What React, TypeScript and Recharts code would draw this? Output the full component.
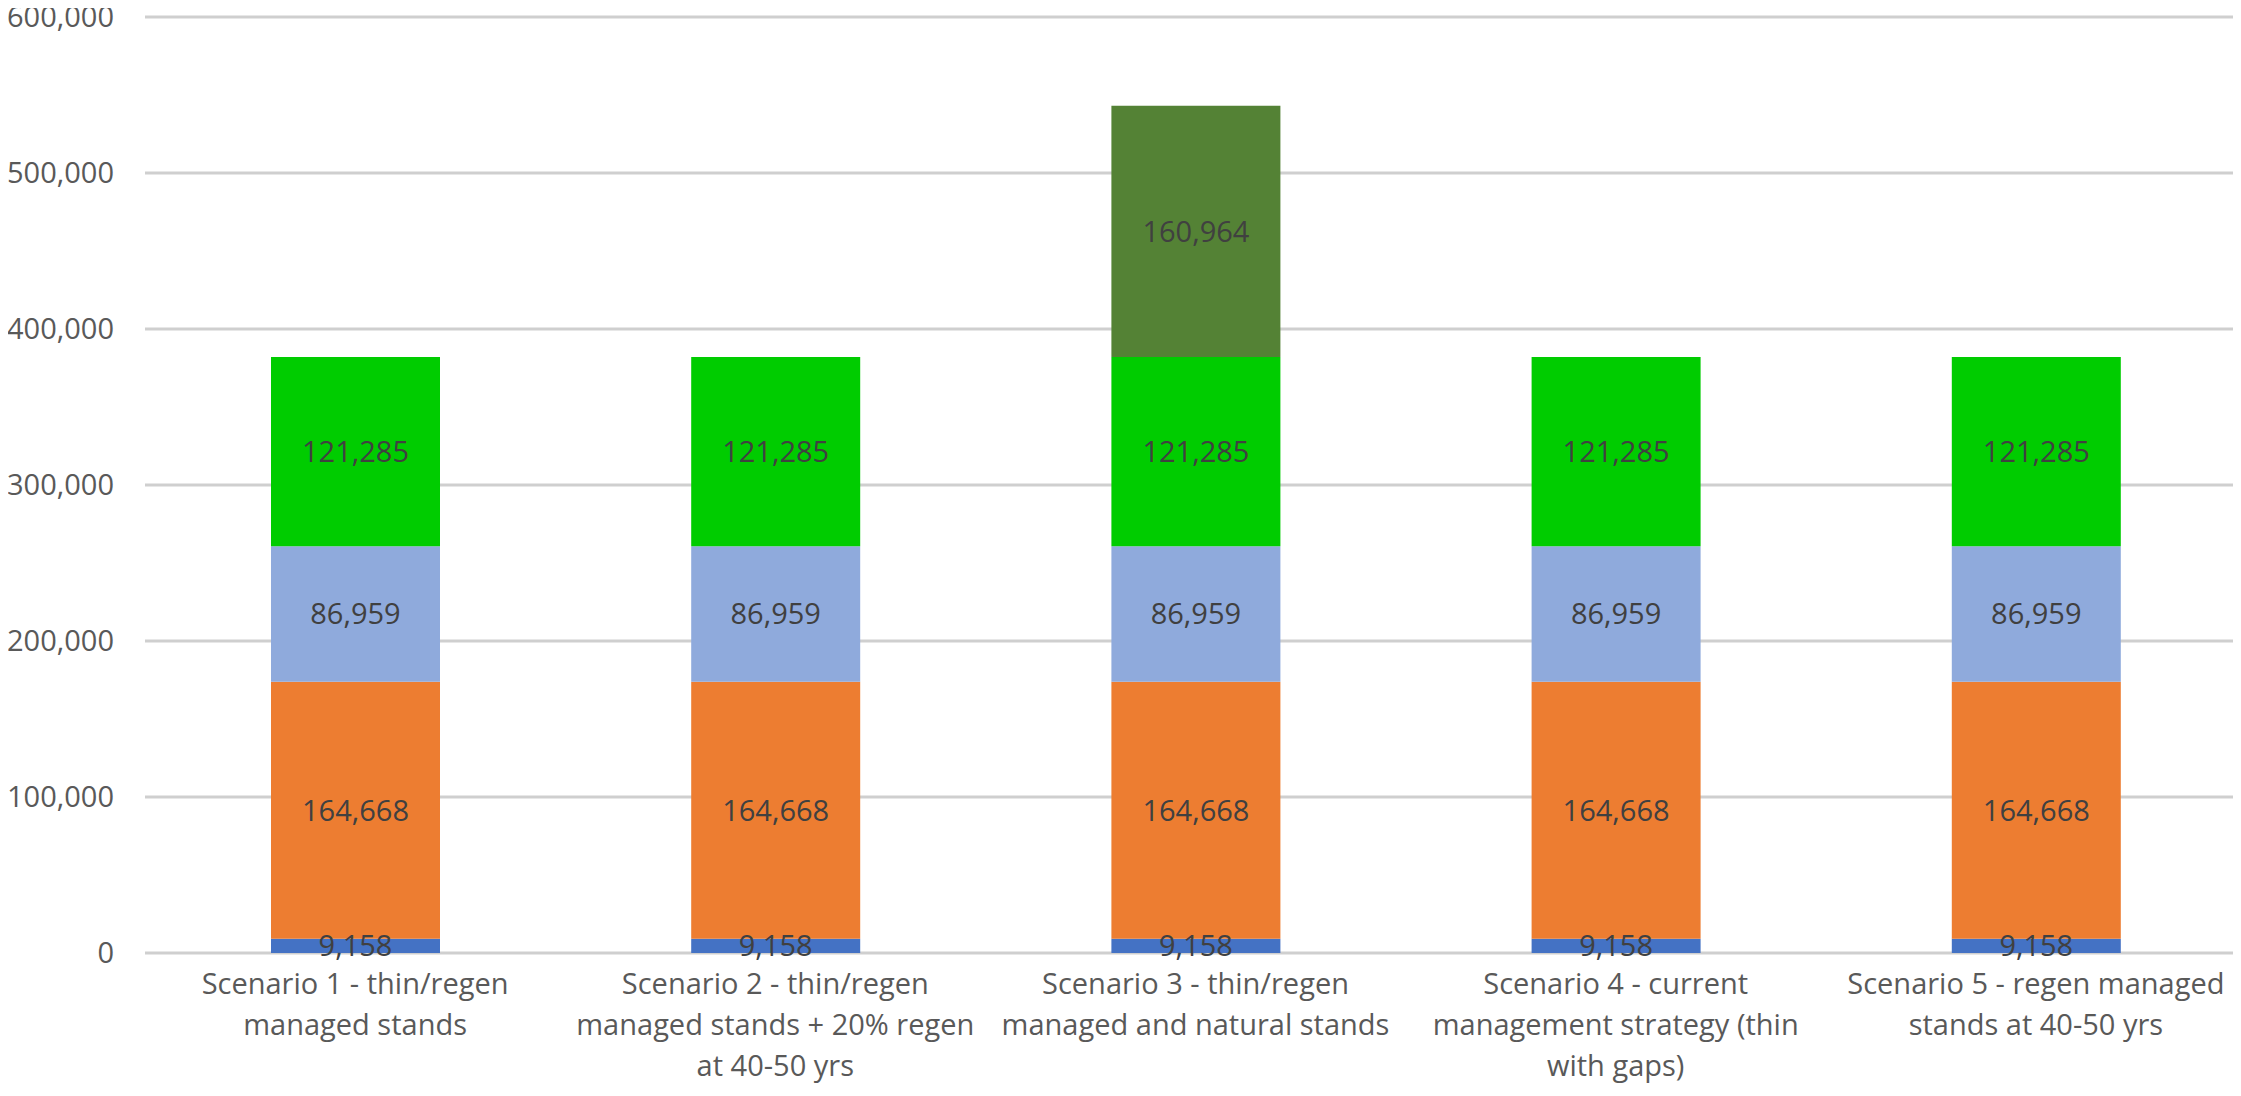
import React from 'react';
import {
  BarChart,
  Bar,
  XAxis,
  YAxis,
  CartesianGrid,
  LabelList,
} from 'recharts';

// Scenario names, "\n" marks where the axis label wraps
const scenarios = [
  'Scenario 1 - thin/regen\nmanaged stands',
  'Scenario 2 - thin/regen\nmanaged stands + 20% regen\nat 40-50 yrs',
  'Scenario 3 - thin/regen\nmanaged and natural stands',
  'Scenario 4 - current\nmanagement strategy (thin\nwith gaps)',
  'Scenario 5 - regen managed\nstands at 40-50 yrs',
];

// Stacked segments, bottom to top
const segmentA = [9158, 9158, 9158, 9158, 9158];
const segmentB = [164668, 164668, 164668, 164668, 164668];
const segmentC = [86959, 86959, 86959, 86959, 86959];
const segmentD = [121285, 121285, 121285, 121285, 121285];
const segmentE = [null, null, 160964, null, null];

const yTicks = [0, 100000, 200000, 300000, 400000, 500000, 600000];

const data = scenarios.map((name, i) => ({
  name,
  a: segmentA[i],
  b: segmentB[i],
  c: segmentC[i],
  d: segmentD[i],
  e: segmentE[i],
}));

const FONT = '"Open Sans", sans-serif';
const AXIS_GREY = '#595959';

const fmt = (v: any) => (v == null ? '' : Number(v).toLocaleString('en-US'));

const ScenarioTick = (props: any) => {
  const { x, y, payload } = props;
  const lines = String(payload.value).split('\n');
  return (
    <text
      x={x}
      y={y}
      textAnchor="middle"
      fill={AXIS_GREY}
      fontSize={29}
      fontFamily={FONT}
    >
      {lines.map((line, i) => (
        <tspan key={i} x={x} dy={i === 0 ? 33 : 41}>
          {line}
        </tspan>
      ))}
    </text>
  );
};

const series = [
  { key: 'a', color: '#4472C4' },
  { key: 'b', color: '#ED7D31' },
  { key: 'c', color: '#8FAADC' },
  { key: 'd', color: '#00CC00' },
  { key: 'e', color: '#548235' },
];

export default function App() {
  return (
    <div style={{ margin: -8, width: 2241, height: 1096, overflow: 'hidden', background: '#fff' }}>
      <BarChart
        width={2246}
        height={1096}
        data={data}
        margin={{ top: 17, right: 0, bottom: 0, left: 0 }}
        barSize={169}
      >
        <CartesianGrid vertical={false} stroke="#cfcfcf" strokeWidth={3} />
        <XAxis
          dataKey="name"
          height={143}
          axisLine={false}
          tickLine={false}
          interval={0}
          tick={<ScenarioTick />}
        />
        <YAxis
          width={145}
          domain={[0, 600000]}
          ticks={yTicks}
          axisLine={false}
          tickLine={false}
          tickMargin={25}
          tickFormatter={fmt}
          tick={{ fill: AXIS_GREY, fontSize: 29, fontFamily: FONT }}
        />
        {series.map((s) => (
          <Bar key={s.key} dataKey={s.key} stackId="total" fill={s.color} isAnimationActive={false}>
            <LabelList
              dataKey={s.key}
              position="center"
              formatter={fmt}
              fill="#404040"
              fontSize={29}
              fontFamily={FONT}
            />
          </Bar>
        ))}
      </BarChart>
    </div>
  );
}
